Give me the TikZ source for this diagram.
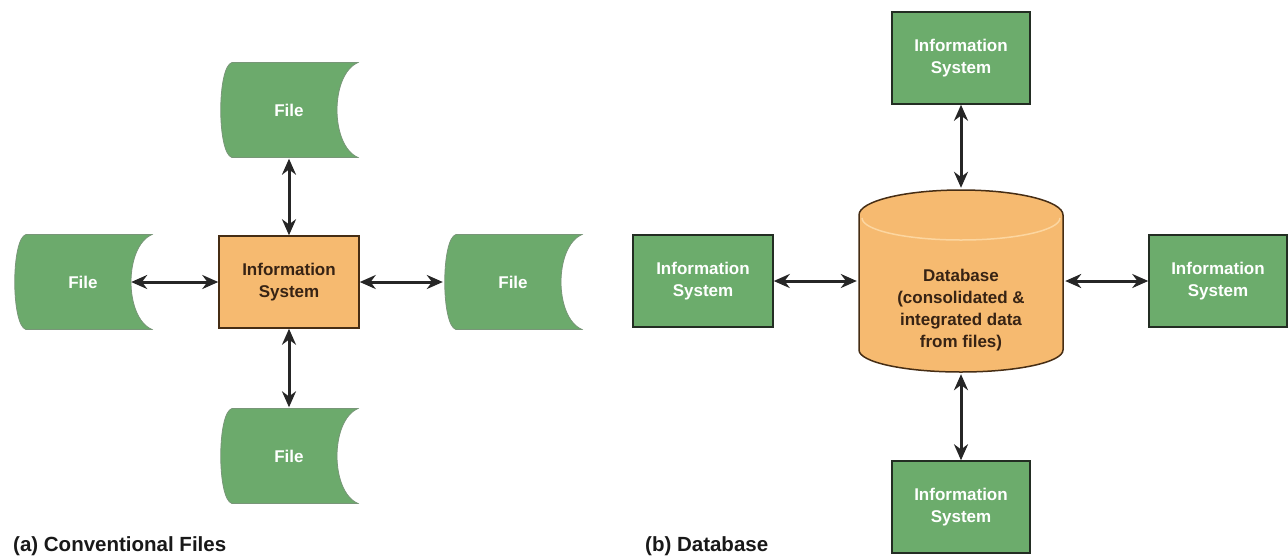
\documentclass[tikz,border=0pt]{standalone}
\usepackage{fontspec}
\setmainfont{Liberation Sans}
\usetikzlibrary{arrows.meta,calc}
\definecolor{filegreen}{RGB}{108,170,108}
\definecolor{fileedge}{RGB}{120,150,120}
\definecolor{boxgreen}{RGB}{108,172,108}
\definecolor{boxedge}{RGB}{35,45,35}
\definecolor{orfill}{RGB}{246,186,112}
\definecolor{oredge}{RGB}{70,45,20}
\definecolor{ortext}{RGB}{55,35,20}
\definecolor{orlight}{RGB}{252,214,160}
\newcommand{\boxfont}{\fontsize{17}{22}\selectfont\bfseries}
\tikzset{
  filenode/.style={minimum width=140pt, minimum height=97pt, inner sep=0pt,
    text=white, font=\boxfont,
    path picture={
      \coordinate (o) at (path picture bounding box.north west);
      \filldraw[fill=filegreen, draw=fileedge, line width=0.8pt]
        ([shift={(13pt,-1pt)}]o) -- ([shift={(139pt,-1pt)}]o)
        .. controls ([shift={(111pt,-13pt)}]o) and ([shift={(111pt,-84pt)}]o)
        .. ([shift={(139pt,-96pt)}]o)
        -- ([shift={(13pt,-96pt)}]o)
        .. controls ([shift={(-2pt,-92pt)}]o) and ([shift={(-2pt,-5pt)}]o)
        .. ([shift={(13pt,-1pt)}]o) -- cycle;
      }},
  sysbox/.style={draw=boxedge, fill=boxgreen, line width=1.5pt,
    minimum width=138pt, minimum height=92pt, inner sep=0pt,
    text=white, font=\boxfont, align=center},
  orbox/.style={draw=oredge, fill=orfill, line width=1.5pt,
    minimum width=140pt, minimum height=92pt, inner sep=0pt,
    text=ortext, font=\boxfont, align=center},
  dbnode/.style={minimum width=208pt, minimum height=186pt, inner sep=0pt,
    text=ortext, font=\boxfont, align=center,
    path picture={
      \coordinate (o) at (path picture bounding box.north west);
      \filldraw[fill=orfill, draw=oredge, line width=1.5pt]
        ([shift={(2pt,-27pt)}]o) -- ([shift={(2pt,-162pt)}]o)
        arc[start angle=180, end angle=360, x radius=102pt, y radius=22pt]
        -- ([shift={(206pt,-27pt)}]o)
        arc[start angle=0, end angle=180, x radius=102pt, y radius=25pt]
        -- cycle;
      \draw[orlight, line width=1.5pt]
        ([shift={(5pt,-30pt)}]o)
        arc[start angle=180, end angle=360, x radius=99pt, y radius=22pt];
      }},
  biarrow/.style={{Stealth[length=16pt,width=14pt]}-{Stealth[length=16pt,width=14pt]},
    line width=3pt, draw=black!85},
  caption/.style={font=\fontsize{20.5}{24}\selectfont\bfseries, text=black!90,
    inner sep=0pt, anchor=west}
}
\begin{document}
\begin{tikzpicture}[x=1pt,y=-1pt]
\useasboundingbox (0,0) rectangle (1288,558);
\fill[white] (0,0) rectangle (1288,558);

% (a) Conventional files
\node[orbox] (is) at (289,282) {Information\\System};
\node[filenode] (fT) at (289,110) {File};
\node[filenode] (fB) at (289,456) {File};
\node[filenode] (fL) at (83,282) {File};
\node[filenode] (fR) at (513,282) {File};

\draw[biarrow] (is.north) -- (fT.south);
\draw[biarrow] (is.south) -- (fB.north);
\draw[biarrow] (is.west) -- ([xshift=-22pt]fL.east);
\draw[biarrow] (is.east) -- (fR.west);

% (b) Database
\node[dbnode] (db) at (961,281) {\rule{0pt}{70pt}Database\\(consolidated \&\\integrated data\\from files)};
\node[sysbox] (sT) at (961,58) {Information\\System};
\node[sysbox] (sB) at (961,507) {Information\\System};
\node[sysbox, minimum width=140pt] (sL) at (703,281) {Information\\System};
\node[sysbox] (sR) at (1218,281) {Information\\System};

\draw[biarrow] (sT.south) -- (db.north);
\draw[biarrow] (sB.north) -- (db.south);
\draw[biarrow] (sL.east) -- (db.west);
\draw[biarrow] (sR.west) -- (db.east);

% captions
\node[caption] (capa) at (13,546) {(a) Conventional Files};
\node[caption] (capb) at (645,546) {(b) Database};
\end{tikzpicture}
\end{document}
